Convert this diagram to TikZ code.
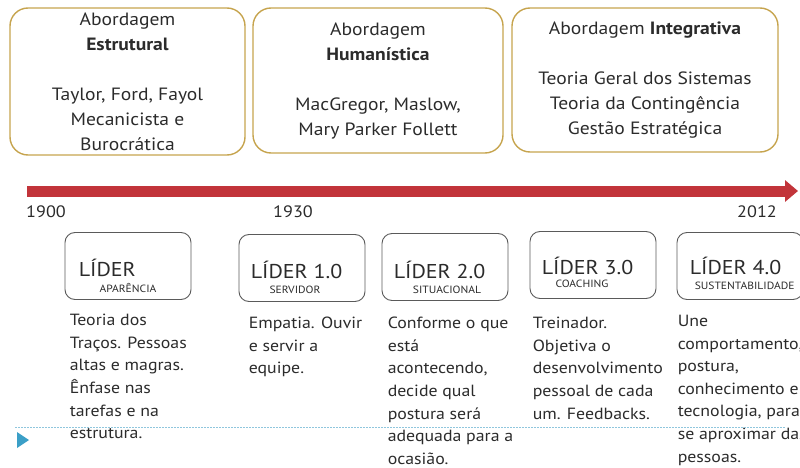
\documentclass[tikz,border=0pt]{standalone}
\usepackage{fontspec}
\setmainfont{PT Sans}[FakeStretch=1.1]
\usetikzlibrary{positioning,arrows.meta}
\definecolor{ink}{HTML}{2B2B2B}
\definecolor{gold}{HTML}{C6A44E}
\definecolor{barred}{HTML}{C2343A}
\definecolor{boxgray}{HTML}{5A5A5A}
\definecolor{dotblue}{HTML}{8FC6DD}
\definecolor{markblue}{HTML}{3B9FC7}
\begin{document}
\begin{tikzpicture}[x=1pt,y=-1pt,
    abord/.style={draw=gold, line width=1.4pt, rounded corners=18pt, align=center, inner sep=0pt, font=\fontsize{17.8}{25}\selectfont},
    lider/.style={draw=boxgray, line width=0.9pt, rounded corners=10pt, minimum width=126pt, minimum height=67pt},
    ltitle/.style={font=\fontsize{20}{22}\selectfont, inner sep=0pt},
    lsub/.style={font=\fontsize{10.5}{11}\selectfont, inner sep=0pt},
    desc/.style={align=left, anchor=north west, inner sep=0pt, font=\fontsize{16.2}{22.6}\selectfont},
    year/.style={font=\fontsize{16.5}{20}\selectfont, inner sep=0pt},
    timeline/.style={draw=barred, line width=11pt, -{Triangle[length=13pt,width=21pt]}},
    dotline/.style={draw=dotblue, line width=1pt, dash pattern=on 1.5pt off 1.5pt}]
                \tikzstyle{every node}=[text=ink]
                \useasboundingbox (0,0) rectangle (800,468);
                \clip (0,0) rectangle (800,468);

                  \node[abord, minimum width=235pt, minimum height=147pt] (estr) at (127.5,81.5)
                    {Abordagem\\\textbf{Estrutural}\\[25pt]Taylor, Ford, Fayol\\Mecanicista e\\Burocrática};
                  \node[abord, minimum width=250pt, minimum height=145pt] (human) at (378,80.5)
                    {Abordagem\\\textbf{Humanística}\\[25pt]MacGregor, Maslow,\\Mary Parker Follett};
                  \node[abord, minimum width=266pt, minimum height=144pt] (integ) at (645,80)
                    {Abordagem \textbf{Integrativa}\\[25pt]Teoria Geral dos Sistemas\\Teoria da Contingência\\Gestão Estratégica};

                  \coordinate (t0) at (27,191);
                  \coordinate (t1) at (798,191);
                  \draw[timeline] (t0) -- (t1);

                  \node[year] (y1900) at (46,212) {1900};
                  \node[year] (y1930) at (293,212) {1930};
                  \node[year] (y2012) at (757,212) {2012};

                  \node[lider] (la) at (128,266) {};
                  \node[lider] (lb) at (302,268) {};
                  \node[lider] (lc) at (445,267) {};
                  \node[lider] (ld) at (593,265) {};
                  \node[lider] (le) at (740,266) {};

                  \node[ltitle, anchor=west] (ta) at ([xshift=14pt,yshift=-2pt]la.west) {LÍDER};
                  \node[ltitle, anchor=west] (tb) at ([xshift=12pt,yshift=-2pt]lb.west) {LÍDER 1.0};
                  \node[ltitle, anchor=west] (tc) at ([xshift=12pt,yshift=-3pt]lc.west) {LÍDER 2.0};
                  \node[ltitle, anchor=west] (td) at ([xshift=12pt,yshift=-1pt]ld.west) {LÍDER 3.0};
                  \node[ltitle, anchor=west] (te) at ([xshift=13pt,yshift=0pt]le.west) {LÍDER 4.0};

                  \node[lsub] (sa) at ([xshift=0pt,yshift=-22pt]la.center) {APARÊNCIA};
                  \node[lsub] (sb) at ([xshift=-7pt,yshift=-22pt]lb.center) {SERVIDOR};
                  \node[lsub] (sc) at ([xshift=2pt,yshift=-23pt]lc.center) {SITUACIONAL};
                  \node[lsub] (sd) at ([xshift=-11pt,yshift=-19pt]ld.center) {COACHING};
                  \node[lsub, anchor=west] (se) at ([xshift=18pt,yshift=-20pt]le.west) {SUSTENTABILIDADE};

                  \node[desc] (da) at ([xshift=5pt,yshift=-14pt]la.south west)
                    {Teoria dos\\Traços. Pessoas\\altas e magras.\\Ênfase nas\\tarefas e na\\estrutura.};
                  \node[desc] (db) at ([xshift=10pt,yshift=-15pt]lb.south west)
                    {Empatia. Ouvir\\e servir a\\equipe.};
                  \node[desc] (dc) at ([xshift=6pt,yshift=-16pt]lc.south west)
                    {Conforme o que\\está\\acontecendo,\\decide qual\\postura será\\adequada para a\\ocasião.};
                  \node[desc] (dd) at ([xshift=3pt,yshift=-18pt]ld.south west)
                    {Treinador.\\Objetiva o\\desenvolvimento\\pessoal de cada\\um. Feedbacks.};
                  \node[desc] (de) at ([xshift=1pt,yshift=-15pt]le.south west)
                    {Une\\comportamento,\\postura,\\conhecimento e\\tecnologia, para\\se aproximar das\\pessoas.};

                  \coordinate (d0) at (15,427);
                  \coordinate (d1) at (785,427);
                  \draw[dotline] (d0) -- (d1);
                  \fill[markblue] (17,432) -- (29,440) -- (17,448) -- cycle;

                \end{tikzpicture}
\end{document}
